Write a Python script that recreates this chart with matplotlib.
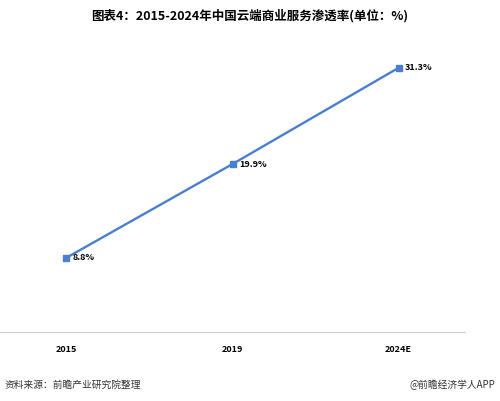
import matplotlib.pyplot as plt

plt.rcParams['font.family'] = ['Noto Sans CJK SC', 'DejaVu Sans']

years = ["2015", "2019", "2024E"]
rates = [8.8, 19.9, 31.3]
labels = ["8.8%", "19.9%", "31.3%"]

fig = plt.figure(figsize=(5.0, 4.01), dpi=100)
ax = fig.add_axes([0.0, (401 - 332) / 401, 465 / 500, (332 - 40) / 401])
x = list(range(len(years)))
ax.plot(x, rates, color="#4a7fd0", linewidth=1.7, marker="s", markersize=4)
for xi, v, t in zip(x, rates, labels):
    ax.text(xi + 0.04, v, t, fontsize=6.5, fontweight="bold", va="center", ha="left")

ax.set_xlim(-0.4, 2.4)
ax.set_ylim(0, (332 - 40) / 8.44)
ax.set_xticks(x)
ax.set_xticklabels(years, fontsize=6.5, fontweight="bold")
ax.tick_params(axis="x", length=0, pad=9)
ax.set_yticks([])
for s in ["top", "right", "left"]:
    ax.spines[s].set_visible(False)
ax.spines["bottom"].set_color("#d0d0d0")

fig.text(0.5, 1 - 16 / 401, "图表4：2015-2024年中国云端商业服务渗透率(单位：%)",
         ha="center", va="center", fontsize=9, fontweight="bold")
fig.text(0.01, 1 - 385 / 401, "资料来源：前瞻产业研究院整理", fontsize=7, va="center", color="#333333")
fig.text(0.99, 1 - 385 / 401, "@前瞻经济学人APP", fontsize=7, va="center", ha="right", color="#333333")

fig.savefig("out.png", dpi=100)
